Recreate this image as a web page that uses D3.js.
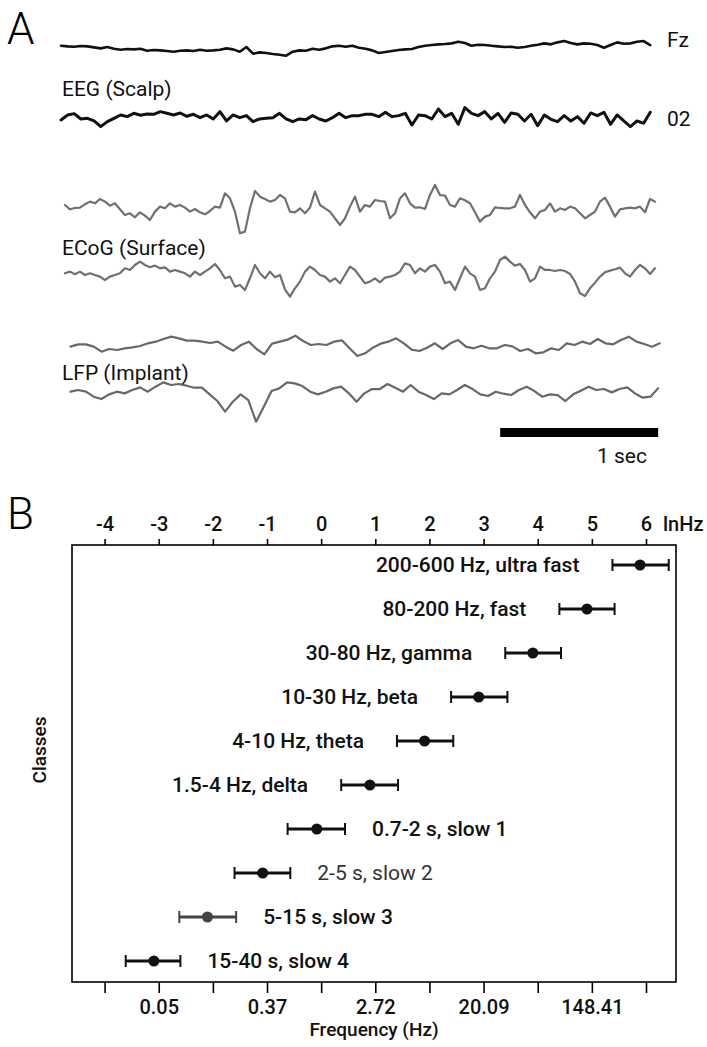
<!DOCTYPE html>
<html><head><meta charset="utf-8">
<script src="https://cdn.jsdelivr.net/npm/d3@7"></script>
<style>
body{margin:0;background:#fff}
svg{display:block}
text{font-family:Roboto,"Open Sans",sans-serif}
</style>
</head><body>
<svg id="chart" width="707" height="1047"></svg>
<script>
// ---------------- Panel A data (amplitudes, arbitrary µV units) ----------------
const fzValues = [6,4,3,5,4,1,-2,2,-3,-6,-4,-5,-3,-9,-7,-8,-10,-12,-9,-8,-10,-6,-9,-8,-6,-2,-5,-12,2,-18,-14,-16,-19,-21,-24,-12,-8,-9,-3,-6,-2,4,6,3,6,0,-3,-8,-16,-13,-10,-7,-5,-4,2,6,8,10,11,13,18,14,6,9,8,6,4,2,3,0,2,6,9,13,10,16,20,14,10,13,12,8,0,8,16,12,13,18,20,8];
const o2Values = [-5,10,14,-2,0,-8,-25,-10,0,10,5,15,9,13,12,20,15,10,16,6,12,2,10,-2,20,-8,10,2,8,-10,-2,0,2,15,-2,-10,-2,-4,8,-2,-8,2,15,2,8,8,12,12,5,18,5,8,15,-20,10,8,-2,28,5,15,-18,32,15,8,20,-2,15,-12,16,12,-8,12,-22,10,-3,-10,8,-8,5,-15,16,8,18,-18,10,-8,-25,-8,-15,18];
const ecogUpperValues = [10,-3,1,2,12,20,15,28,20,8,15,-3,-20,-15,-27,-12,-22,-35,-10,5,0,15,5,10,2,-10,-2,-12,-18,-8,5,2,45,30,-10,-75,-70,0,52,35,28,20,25,40,30,-10,-12,0,-15,2,50,10,0,-10,-30,-50,-30,5,35,
  -10,10,5,25,22,20,-30,-15,30,45,15,2,3,-2,40,70,40,38,10,5,30,24,15,-12,-40,-25,-20,3,1,0,0,5,40,10,-12,-30,-10,-5,15,-10,0,-5,5,0,-15,-30,-20,-10,20,32,5,-25,-3,0,2,0,5,-12,28,20];
const ecogLowerValues = [0,5,-3,5,-5,0,-5,-10,-20,-10,-5,0,15,10,25,35,25,18,23,15,18,5,10,5,0,-10,5,-5,5,15,28,10,-15,-10,-40,-35,-50,-15,25,0,-15,5,-12,-5,-48,-70,-45,-25,5,20,10,-5,-10,-25,-15,-30,-5,20,10,
  -10,-30,-25,-15,-27,-13,-10,-5,5,30,25,0,15,5,20,25,5,-30,-25,-50,-15,20,0,-10,-50,-45,-15,5,40,50,35,23,28,10,-25,-15,20,10,10,7,10,7,-2,-25,-60,-68,-45,-28,-10,3,8,12,17,0,-10,10,25,15,-2,15];
const lfpUpperValues = [-5,2,2,-5,-20,-12,-15,-10,-7,-3,5,10,18,25,20,13,13,10,6,10,-5,-17,0,10,-12,-28,4,10,16,28,12,0,3,0,10,14,-10,-33,-25,-8,4,10,20,5,-14,-18,-8,5,-12,5,15,-5,-10,-2,-10,-10,0,-4,-18,-12,-25,-22,-10,-15,5,0,10,3,18,5,2,15,25,10,3,-5,5];
const lfpLowerValues = [0,5,0,-15,-22,-8,0,-5,5,13,0,15,28,20,23,18,12,12,-8,-28,-60,-30,-8,-25,-90,-45,2,10,28,25,17,0,-8,0,10,15,-5,-30,-5,8,8,23,12,0,20,0,-10,-22,-5,-8,5,20,8,-8,-13,0,-6,-10,5,15,2,-15,-8,-10,-28,-8,3,15,5,8,-2,8,13,-5,-18,-15,10];
// time span (s) of each recording
const traceStart = [0, 0, 0.025, 0.025, 0.06, 0.06];
const traceEnd   = [3.73, 3.73, 3.76, 3.76, 3.79, 3.78];
const traceNames = ["Fz", "02"];
const groupLabels = ["EEG (Scalp)", "ECoG (Surface)", "LFP (Implant)"];
const scaleBarSeconds = [2.78, 3.78];
const scaleBarLabel = "1 sec";

// ---------------- Panel B data ----------------
const classLabels = ["200-600 Hz, ultra fast","80-200 Hz, fast","30-80 Hz, gamma","10-30 Hz, beta","4-10 Hz, theta","1.5-4 Hz, delta","0.7-2 s, slow 1","2-5 s, slow 2","5-15 s, slow 3","15-40 s, slow 4"];
const lnCenter = [5.89, 4.91, 3.91, 2.91, 1.91, 0.90, -0.08, -1.08, -2.10, -3.09];
const lnLow    = [5.38, 4.40, 3.40, 2.40, 1.40, 0.37, -0.62, -1.60, -2.62, -3.61];
const lnHigh   = [6.42, 5.42, 4.43, 3.44, 2.44, 1.42, 0.44, -0.57, -1.57, -2.60];
const lnTicks = [-4,-3,-2,-1,0,1,2,3,4,5,6];
const freqTickLn = [-3,-1,1,3,5];
const freqTickLabels = ["0.05","0.37","2.72","20.09","148.41"];

// ---------------- drawing ----------------
const svg = d3.select("#chart");
const traces = [fzValues, o2Values, ecogUpperValues, ecogLowerValues, lfpUpperValues, lfpLowerValues];
const centers = [47.7, 118.3, 208.3, 273.3, 345, 391.7];
const colors = ["#111", "#111", "#707070", "#707070", "#686868", "#686868"];
const widths = [2.6, 3, 2.2, 2.2, 2.2, 2.2];

const xTime = d3.scaleLinear().domain([0, 3.76]).range([61, 655]);

svg.append("text").attr("x", 7).attr("y", 44).attr("font-size", 44).attr("font-weight", 300).text("A");

traces.forEach((vals, i) => {
  const n = vals.length;
  const tScale = d3.scaleLinear().domain([0, n - 1]).range([traceStart[i], traceEnd[i]]);
  const yAmp = d3.scaleLinear().domain([-30, 30]).range([centers[i] + 10, centers[i] - 10]);
  const line = d3.line().x((d, j) => xTime(tScale(j))).y(d => yAmp(d)).curve(d3.curveLinear);
  svg.append("path").datum(vals).attr("d", line)
    .attr("fill", "none").attr("stroke", colors[i]).attr("stroke-width", widths[i])
    .attr("stroke-linejoin", "round").attr("stroke-linecap", "round");
});

svg.append("text").attr("x", 667).attr("y", 47).attr("font-size", 21).attr("fill", "#111").text(traceNames[0]);
svg.append("text").attr("x", 667).attr("y", 126).attr("font-size", 21).attr("fill", "#111").text(traceNames[1]);

const groupY = [96, 255, 380];
groupLabels.forEach((gl, i) => {
  svg.append("text").attr("x", 62).attr("y", groupY[i]).attr("font-size", 21).attr("fill", "#111").text(gl);
});

svg.append("rect")
  .attr("x", xTime(scaleBarSeconds[0])).attr("y", 428)
  .attr("width", xTime(scaleBarSeconds[1]) - xTime(scaleBarSeconds[0])).attr("height", 9)
  .attr("fill", "#000");
svg.append("text").attr("x", 647).attr("y", 463).attr("text-anchor", "end").attr("font-size", 21).attr("fill", "#111").text(scaleBarLabel);

// Panel B
svg.append("text").attr("x", 7).attr("y", 529).attr("font-size", 44).attr("font-weight", 300).text("B");

const box = {left: 72, right: 676, top: 545, bottom: 982};
const xLn = d3.scaleLinear().domain([-4, 6]).range([104.6, 646]);
const yRow = d3.scalePoint().domain(classLabels).range([565, 961]);

svg.append("rect").attr("x", box.left).attr("y", box.top)
  .attr("width", box.right - box.left).attr("height", box.bottom - box.top)
  .attr("fill", "none").attr("stroke", "#000").attr("stroke-width", 1.6);

const topAxis = svg.append("g").attr("transform", `translate(0,${box.top})`)
  .call(d3.axisTop(xLn).tickValues(lnTicks).tickSize(6).tickPadding(8).tickFormat(d3.format("d")));
topAxis.select(".domain").remove();
topAxis.selectAll("line").attr("stroke", "#000").attr("stroke-width", 1.6);
topAxis.selectAll("text").attr("font-size", 20).attr("font-weight", 500).attr("fill", "#111")
  .attr("font-family", "Roboto, sans-serif").text(d => d < 0 ? "-" + Math.abs(d) : d);
svg.append("text").attr("x", 663).attr("y", 531).attr("font-size", 20).attr("font-weight", 500).attr("fill", "#111").text("lnHz");

const bottomAxis = svg.append("g").attr("transform", `translate(0,${box.bottom})`)
  .call(d3.axisBottom(xLn).tickValues(lnTicks).tickSize(11).tickPadding(7)
    .tickFormat(d => { const k = freqTickLn.indexOf(d); return k >= 0 ? freqTickLabels[k] : ""; }));
bottomAxis.select(".domain").remove();
bottomAxis.selectAll("line").attr("stroke", "#000").attr("stroke-width", 1.6);
bottomAxis.selectAll("text").attr("font-size", 20).attr("font-weight", 500).attr("fill", "#111")
  .attr("font-family", "Roboto, sans-serif");

svg.append("text").attr("x", (box.left + box.right) / 2).attr("y", 1036).attr("text-anchor", "middle")
  .attr("font-size", 19).attr("font-weight", 500).attr("fill", "#111").text("Frequency (Hz)");
svg.append("text").attr("transform", "translate(46,750) rotate(-90)").attr("text-anchor", "middle")
  .attr("font-size", 19).attr("font-weight", 500).attr("fill", "#111").text("Classes");

const rows = classLabels.map((c, i) => ({c, i, m: lnCenter[i], lo: lnLow[i], hi: lnHigh[i]}));
const g = svg.append("g");
rows.forEach(r => {
  const y = yRow(r.c);
  const col = r.i === 8 ? "#444" : "#111";
  g.append("line").attr("x1", xLn(r.lo)).attr("x2", xLn(r.hi)).attr("y1", y).attr("y2", y)
    .attr("stroke", col).attr("stroke-width", 3);
  [r.lo, r.hi].forEach(v => g.append("line").attr("x1", xLn(v)).attr("x2", xLn(v))
    .attr("y1", y - 6).attr("y2", y + 6).attr("stroke", col).attr("stroke-width", 2));
  g.append("circle").attr("cx", xLn(r.m)).attr("cy", y).attr("r", 5.5).attr("fill", col);
  const leftSide = r.i < 6;
  g.append("text")
    .attr("x", leftSide ? xLn(r.lo) - 33 : xLn(r.hi) + 27)
    .attr("y", y).attr("dy", "0.35em")
    .attr("text-anchor", leftSide ? "end" : "start")
    .attr("font-size", 21).attr("font-weight", r.i === 7 ? 400 : 500)
    .attr("fill", r.i === 7 ? "#333" : "#111").text(r.c);
});
</script>
</body></html>
